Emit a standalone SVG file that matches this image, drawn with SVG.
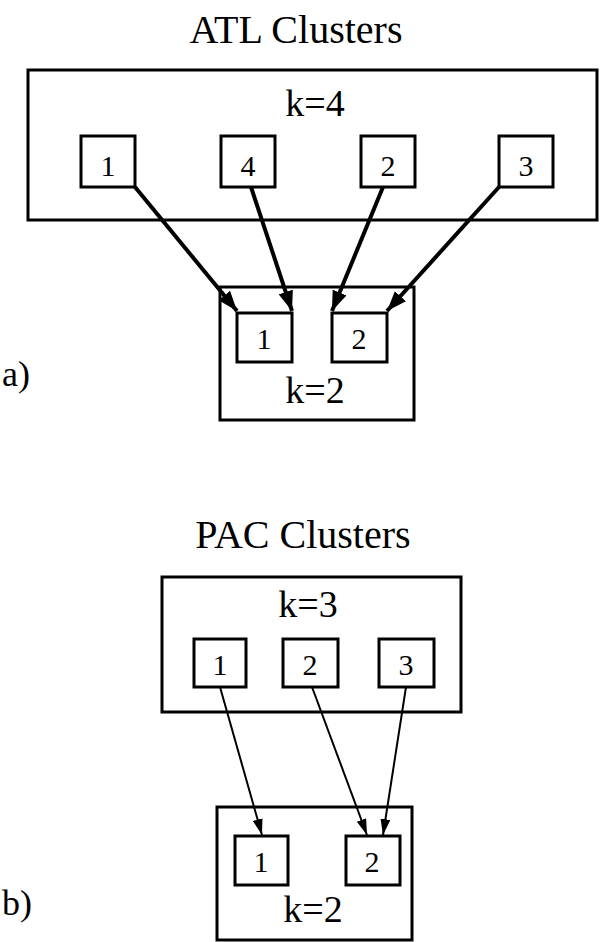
<svg xmlns="http://www.w3.org/2000/svg" width="606" height="942" viewBox="0 0 606 942">
<style>
text{fill:#000;text-anchor:middle}
.t{font-size:40px}
.k{font-size:38px}
.d{font-size:30px}
.lab{font-size:36px;text-anchor:start}
rect{fill:#fff;stroke:#000;stroke-width:3}
.thick{stroke:#000;stroke-width:4;fill:none}
.thin{stroke:#000;stroke-width:2;fill:none}
</style>
<defs>
<marker id="ah" viewBox="0 0 20 15" refX="20" refY="7.5" markerWidth="5" markerHeight="3.75" markerUnits="strokeWidth" orient="auto">
<path d="M0,0 L20,7.5 L0,15 z" fill="#000"/>
</marker>
<marker id="ah2" viewBox="0 0 16 10" refX="16" refY="5" markerWidth="8" markerHeight="5" markerUnits="strokeWidth" orient="auto">
<path d="M0,0 L16,5 L0,10 z" fill="#000"/>
</marker>
</defs>
<g font-family="'Liberation Serif', 'Times New Roman', 'DejaVu Serif', serif">
<text class="t" x="296" y="43">ATL Clusters</text>
<g id="atl-k4">
<rect x="28" y="70" width="569" height="150"/>
<text class="k" x="315" y="116">k=4</text>
</g>
<g id="atl-a1"><rect x="81" y="136" width="54" height="51"/><text class="d" x="108" y="176">1</text></g>
<g id="atl-a4"><rect x="221" y="136" width="54" height="51"/><text class="d" x="248" y="176">4</text></g>
<g id="atl-a2"><rect x="361" y="136" width="54" height="51"/><text class="d" x="388" y="176">2</text></g>
<g id="atl-a3"><rect x="499" y="136" width="54" height="51"/><text class="d" x="526" y="176">3</text></g>
<g id="atl-k2">
<rect x="220" y="287" width="194" height="133"/>
<text class="k" x="315" y="403">k=2</text>
</g>
<g id="atl-b1"><rect x="237" y="313" width="55" height="49"/><text class="d" x="264" y="349">1</text></g>
<g id="atl-b2"><rect x="332" y="313" width="55" height="49"/><text class="d" x="359" y="349">2</text></g>
<text class="lab" x="2" y="386">a)</text>

<text class="t" x="303" y="548">PAC Clusters</text>
<g id="pac-k3">
<rect x="162" y="577" width="299" height="135"/>
<text class="k" x="308" y="617">k=3</text>
</g>
<g id="pac-a1"><rect x="194" y="639" width="52" height="48"/><text class="d" x="220" y="675">1</text></g>
<g id="pac-a2"><rect x="283" y="639" width="55" height="48"/><text class="d" x="310" y="675">2</text></g>
<g id="pac-a3"><rect x="379" y="639" width="55" height="48"/><text class="d" x="406" y="675">3</text></g>
<g id="pac-k2">
<rect x="217" y="807" width="195" height="133"/>
<text class="k" x="313" y="922">k=2</text>
</g>
<g id="pac-b1"><rect x="235" y="836" width="53" height="49"/><text class="d" x="261" y="872">1</text></g>
<g id="pac-b2"><rect x="346" y="836" width="54" height="49"/><text class="d" x="372" y="872">2</text></g>
<text class="lab" x="2" y="915">b)</text>
</g>
<g id="connectors">
<line class="thick" x1="135" y1="187" x2="237" y2="311" marker-end="url(#ah)"/>
<line class="thick" x1="251" y1="187" x2="292" y2="311" marker-end="url(#ah)"/>
<line class="thick" x1="383" y1="187" x2="332" y2="311" marker-end="url(#ah)"/>
<line class="thick" x1="499" y1="187" x2="387" y2="311" marker-end="url(#ah)"/>
<line class="thin" x1="220" y1="687" x2="262" y2="835" marker-end="url(#ah2)"/>
<line class="thin" x1="312" y1="687" x2="367" y2="835" marker-end="url(#ah2)"/>
<line class="thin" x1="406" y1="687" x2="383" y2="835" marker-end="url(#ah2)"/>
</g>
</svg>
